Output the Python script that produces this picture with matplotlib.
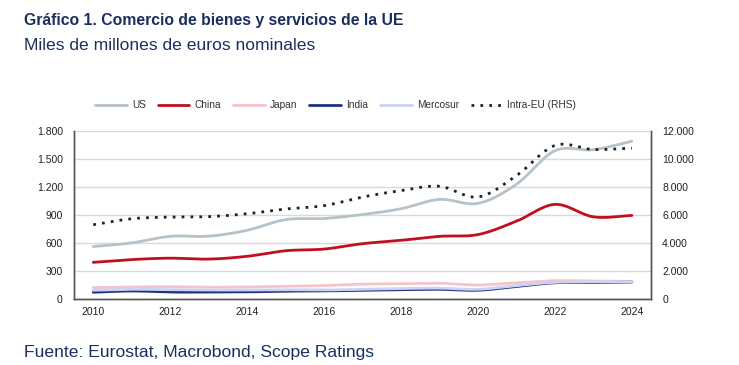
import numpy as np
import matplotlib
matplotlib.use("Agg")
import matplotlib.pyplot as plt
from matplotlib.ticker import FuncFormatter

years = list(range(2010, 2025))
us = [560, 600, 670, 672, 735, 850, 862, 905, 967, 1068, 1025, 1231, 1592, 1603, 1694]
china = [390, 420, 435, 425, 455, 515, 533, 591, 627, 670, 689, 833, 1014, 880, 895]
japan = [118, 125, 128, 122, 125, 132, 140, 155, 160, 165, 146, 170, 193, 188, 185]
india = [68, 82, 70, 70, 72, 80, 82, 90, 95, 100, 90, 130, 170, 172, 178]
mercosur = [90, 100, 95, 92, 92, 95, 92, 100, 108, 112, 100, 140, 175, 178, 182]
intra_eu = [5300, 5730, 5850, 5880, 6090, 6430, 6670, 7290, 7750, 8060, 7290, 8830, 10990, 10700, 10800]

left_ticks = [0, 300, 600, 900, 1200, 1500, 1800]
right_ticks = [0, 2000, 4000, 6000, 8000, 10000, 12000]
x_ticks = [2010, 2012, 2014, 2016, 2018, 2020, 2022, 2024]

title = "Gráfico 1. Comercio de bienes y servicios de la UE"
subtitle = "Miles de millones de euros nominales"
source = "Fuente: Eurostat, Macrobond, Scope Ratings"


def smooth(x, y, n=20):
    # Catmull-Rom rendering (Excel-style smoothed line) through the data points
    x = np.asarray(x, float)
    y = np.asarray(y, float)
    px = np.concatenate([[2 * x[0] - x[1]], x, [2 * x[-1] - x[-2]]])
    py = np.concatenate([[2 * y[0] - y[1]], y, [2 * y[-1] - y[-2]]])
    xs, ys = [], []
    t = np.linspace(0, 1, n, endpoint=False)
    for i in range(1, len(px) - 2):
        for arr, out in ((px, xs), (py, ys)):
            p0, p1, p2, p3 = arr[i - 1], arr[i], arr[i + 1], arr[i + 2]
            out.extend(0.5 * ((2 * p1) + (-p0 + p2) * t +
                              (2 * p0 - 5 * p1 + 4 * p2 - p3) * t ** 2 +
                              (-p0 + 3 * p1 - 3 * p2 + p3) * t ** 3))
    xs.append(x[-1])
    ys.append(y[-1])
    return np.array(xs), np.array(ys)


plt.rcParams['font.family'] = ['Liberation Sans', 'DejaVu Sans']

fig = plt.figure(figsize=(7.39, 3.65), dpi=100)
ax = fig.add_axes([0.1001, 0.182, 0.781, 0.458])
ax2 = ax.twinx()

navy = "#1b2f5e"
fig.text(0.0325, 0.945, title, fontsize=11.3, fontweight="bold", color=navy, va="center")
fig.text(0.0325, 0.875, subtitle, fontsize=12.6, color=navy, va="center")
fig.text(0.0325, 0.035, source, fontsize=12.6, color=navy, va="center")

series = [
    ("US", us, "#b6c2ca"),
    ("China", china, "#c0101f"),
    ("Japan", japan, "#f6c4c8"),
    ("India", india, "#1f3380"),
    ("Mercosur", mercosur, "#cbd2f2"),
]
handles = []
for name, vals, col in series:
    sx, sy = smooth(years, vals)
    h, = ax.plot(sx, sy, color=col, lw=2.0, label=name, solid_capstyle="round")
    handles.append(h)
sx, sy = smooth(years, intra_eu)
h2, = ax2.plot(sx, sy, color="#222222", lw=2.0, ls=(0, (1, 2.2)), label="Intra-EU (RHS)")
handles.append(h2)

ax.set_xlim(2009.5, 2024.5)
ax.set_ylim(0, 1800)
ax2.set_ylim(0, 12000)
ax.set_yticks(left_ticks)
ax2.set_yticks(right_ticks)
ax.set_xticks(x_ticks)

fmt = FuncFormatter(lambda v, p: f"{int(v):,}".replace(",", "."))
ax.yaxis.set_major_formatter(fmt)
ax2.yaxis.set_major_formatter(fmt)

ax.grid(axis="y", color="#d9d9d9", lw=1.0)
ax.set_axisbelow(True)
for a in (ax, ax2):
    a.tick_params(length=0, labelsize=7.5, colors="#222222", pad=8)
    a.spines["top"].set_visible(False)
    for s in ("left", "right", "bottom"):
        a.spines[s].set_color("#555555")
        a.spines[s].set_linewidth(1.0)
ax.tick_params(axis="x", pad=6)

ax.legend(handles=handles, loc="center left", bbox_to_anchor=(0.03, 1.155),
          ncol=6, frameon=False, fontsize=7.3, handlelength=3.1,
          columnspacing=1.2, handletextpad=0.5, labelcolor="#333333",
          borderaxespad=0)

fig.savefig("out.png", dpi=100)
